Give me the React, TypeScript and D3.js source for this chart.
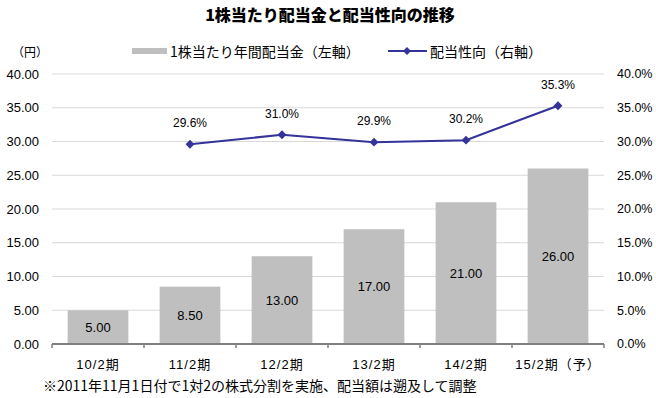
import React, { useEffect, useRef } from 'react';
import * as d3 from 'd3';

// data
const periods = ['10/2期', '11/2期', '12/2期', '13/2期', '14/2期', '15/2期（予）'];
const dividends = [5.0, 8.5, 13.0, 17.0, 21.0, 26.0];
const payoutRatios: (number | null)[] = [null, 29.6, 31.0, 29.9, 30.2, 35.3];
const leftTicks = [0, 5, 10, 15, 20, 25, 30, 35, 40];
const rightTicks = [0, 5, 10, 15, 20, 25, 30, 35, 40];

const FONT = "'Liberation Sans', Arial, 'Noto Sans CJK JP', sans-serif";
const JP = "'Noto Sans CJK JP', sans-serif";
const W = 656;
const H = 398;

const App: React.FC = () => {
  const ref = useRef<SVGSVGElement>(null);

  useEffect(() => {
    if (!ref.current) return;
    const svg = d3.select(ref.current);
    svg.selectAll('*').remove();

    const margin = { top: 74, right: 52, bottom: 54, left: 52 };
    const width = W - margin.left - margin.right;
    const height = H - margin.top - margin.bottom;

    // Title
    svg.append('text')
      .attr('x', 330)
      .attr('y', 21)
      .attr('text-anchor', 'middle')
      .style('font-family', JP)
      .style('font-size', '16px')
      .style('font-weight', '900')
      .text('1株当たり配当金と配当性向の推移');

    const g = svg.append('g')
      .attr('transform', `translate(${margin.left},${margin.top})`);

    const x = d3.scaleBand()
      .domain(periods)
      .range([0, width])
      .paddingInner(0.34)
      .paddingOuter(0.17);

    const yL = d3.scaleLinear().domain([0, 40]).range([height, 0]);
    const yR = d3.scaleLinear().domain([0, 40]).range([height, 0]);

    // gridlines
    g.selectAll('.grid')
      .data(leftTicks.filter(d => d > 0))
      .join('line')
      .attr('x1', 0)
      .attr('x2', width)
      .attr('y1', d => yL(d))
      .attr('y2', d => yL(d))
      .attr('stroke', '#d9d9d9')
      .attr('stroke-width', 1);

    // left axis labels
    g.selectAll('.lt')
      .data(leftTicks)
      .join('text')
      .attr('x', -13)
      .attr('y', d => yL(d))
      .attr('dy', '0.35em')
      .attr('text-anchor', 'end')
      .style('font-family', FONT)
      .style('font-size', '13px')
      .text(d => d3.format('.2f')(d));

    // right axis labels
    g.selectAll('.rt')
      .data(rightTicks)
      .join('text')
      .attr('x', width + 13)
      .attr('y', d => yR(d))
      .attr('dy', '0.35em')
      .attr('text-anchor', 'start')
      .style('font-family', FONT)
      .style('font-size', '12.5px')
      .text(d => d3.format('.1f')(d) + '%');

    // bars
    g.selectAll('.bar')
      .data(dividends)
      .join('rect')
      .attr('x', (_, i) => x(periods[i]) || 0)
      .attr('y', d => yL(d))
      .attr('width', x.bandwidth())
      .attr('height', d => height - yL(d))
      .attr('fill', '#bfbfbf');

    // bar labels
    g.selectAll('.barlabel')
      .data(dividends)
      .join('text')
      .attr('x', (_, i) => (x(periods[i]) || 0) + x.bandwidth() / 2)
      .attr('y', d => (yL(d) + height) / 2)
      .attr('dy', '0.35em')
      .attr('text-anchor', 'middle')
      .style('font-family', FONT)
      .style('font-size', '13px')
      .text(d => d3.format('.2f')(d));

    // bottom axis line with ticks at category boundaries
    g.append('line')
      .attr('x1', 0)
      .attr('x2', width)
      .attr('y1', height)
      .attr('y2', height)
      .attr('stroke', '#808080')
      .attr('stroke-width', 2);

    const step = width / periods.length;
    g.selectAll('.xtick')
      .data(d3.range(periods.length + 1))
      .join('line')
      .attr('x1', d => d * step)
      .attr('x2', d => d * step)
      .attr('y1', height)
      .attr('y2', height + 4)
      .attr('stroke', '#808080')
      .attr('stroke-width', 1.5);

    // x labels
    g.selectAll('.xl')
      .data(periods)
      .join('text')
      .attr('x', d => (x(d) || 0) + x.bandwidth() / 2)
      .attr('y', height + 25)
      .attr('text-anchor', 'middle')
      .style('font-family', FONT)
      .style('font-size', '13px')
      .style('letter-spacing', '1px')
      .text(d => d);

    // payout ratio line
    const pts = payoutRatios
      .map((v, i) => ({ v, p: periods[i] }))
      .filter(d => d.v !== null) as { v: number; p: string }[];

    const cx = (p: string) => (x(p) || 0) + x.bandwidth() / 2;

    g.append('path')
      .datum(pts)
      .attr('fill', 'none')
      .attr('stroke', '#333399')
      .attr('stroke-width', 2)
      .attr('d', d3.line<{ v: number; p: string }>()
        .x(d => cx(d.p))
        .y(d => yR(d.v)));

    g.selectAll('.marker')
      .data(pts)
      .join('path')
      .attr('transform', d => `translate(${cx(d.p)},${yR(d.v)})`)
      .attr('d', d3.symbol().type(d3.symbolDiamond2).size(50)())
      .attr('fill', '#333399');

    g.selectAll('.pl')
      .data(pts)
      .join('text')
      .attr('x', d => cx(d.p))
      .attr('y', d => yR(d.v) - 17)
      .attr('text-anchor', 'middle')
      .style('font-family', FONT)
      .style('font-size', '12px')
      .text(d => d3.format('.1f')(d.v) + '%');

    // legend
    svg.append('text')
      .attr('x', 12)
      .attr('y', 57)
      .style('font-family', JP)
      .style('font-size', '12px')
      .text('（円）');

    svg.append('rect')
      .attr('x', 132)
      .attr('y', 48)
      .attr('width', 35)
      .attr('height', 6)
      .attr('fill', '#bfbfbf');

    svg.append('text')
      .attr('x', 170)
      .attr('y', 57)
      .style('font-family', JP)
      .style('font-size', '14px')
      .text('1株当たり年間配当金（左軸）');

    svg.append('line')
      .attr('x1', 388)
      .attr('x2', 427)
      .attr('y1', 51)
      .attr('y2', 51)
      .attr('stroke', '#333399')
      .attr('stroke-width', 2);

    svg.append('path')
      .attr('transform', 'translate(407,51)')
      .attr('d', d3.symbol().type(d3.symbolDiamond2).size(40)())
      .attr('fill', '#333399');

    svg.append('text')
      .attr('x', 430)
      .attr('y', 57)
      .style('font-family', JP)
      .style('font-size', '14px')
      .text('配当性向（右軸）');

    // footnote
    svg.append('text')
      .attr('x', 43)
      .attr('y', 391)
      .style('font-family', JP)
      .style('font-size', '14px')
      .text('※2011年11月1日付で1対2の株式分割を実施、配当額は遡及して調整');
  }, []);

  return (
    <svg ref={ref} width={W} height={H}
      style={{ display: 'block', position: 'absolute', left: 0, top: 0, background: '#fff' }} />
  );
};

export default App;
